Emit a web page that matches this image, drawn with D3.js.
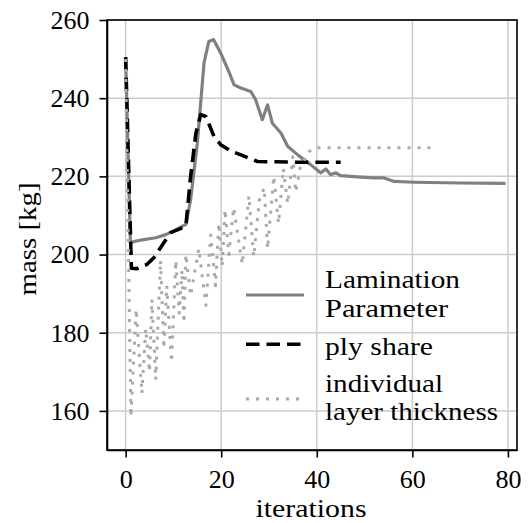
<!DOCTYPE html>
<meta charset="utf-8">
<script src="https://d3js.org/d3.v7.min.js"></script>
<style>
    body { margin: 0; background: #fff; }
</style>
<body>
<script>
    // lamination parameter run
    var lpIter = [0, 1, 2, 3.8, 6.3, 8.4, 10, 12.6, 13.6, 15, 16.4, 17.4, 18.4, 19.9, 21.6, 22.7, 24.1, 26.2, 27.2, 28.6, 29.7, 30.7, 32.5, 33.9, 36.2, 38.7, 40.8, 41.9, 42.9, 44, 45, 47.1, 49.2, 52, 54.1, 56.2, 60.4, 70, 79.5];
    var lpMass = [250.2, 203, 203.4, 203.8, 204.3, 205.1, 206, 207.7, 214, 228.5, 249, 254.5, 255, 251.5, 246.8, 243.4, 242.6, 241.7, 239.6, 234.5, 238.3, 233.6, 231.1, 227.7, 225.3, 223, 220.9, 221.9, 220.4, 220.9, 220.2, 220, 219.8, 219.6, 219.6, 218.7, 218.5, 218.3, 218.2];

    // ply share run
    var psIter = [0, 1.2, 2.4, 4.5, 5.9, 9.4, 12.6, 13.6, 14.7, 15.7, 16.8, 18.5, 19.9, 22, 24.1, 27.6, 36.6, 45];
    var psMass = [250.5, 196.5, 196.4, 197.5, 199.2, 205.6, 207.2, 220, 231, 235.8, 235.3, 230.2, 228.1, 226.5, 225.5, 223.8, 223.6, 223.6];

    // individual layer thickness run
    var ltIter = [0, 1.1, 2.2, 3.4, 4.2, 5, 5.5, 6.3, 7.3, 8, 8.6, 9.6, 10.5, 11.2, 11.8, 12.2, 12.6, 13.6, 15.3, 16.8, 17.8, 18.8, 19.5, 20.2, 20.8, 21.6, 22.6, 24.4, 25.8, 26.8, 28, 29, 29.7, 31, 32, 33, 33.9, 35, 35.6, 36.5, 37.5, 38.3, 39.8, 64.9];
    var ltMass = [250, 158.5, 186, 164.5, 181, 170, 188.5, 168, 198.5, 176, 192, 172.5, 198.5, 185, 196, 182.5, 200, 189.5, 201.5, 187, 205, 192, 208, 197, 211.5, 200, 212, 197.5, 215, 199.5, 214, 217, 201.5, 220, 208, 222, 213, 225, 216, 222, 224.5, 226.3, 227.3, 227.3];

    var xTicks = [0, 20, 40, 60, 80];
    var yTicks = [160, 180, 200, 220, 240, 260];

    var series = [
        {name: ["Lamination", "Parameter"], widths: [135, 123], x: lpIter, y: lpMass, color: "#808080", width: 3.2, dash: null},
        {name: ["ply share"], widths: [108], x: psIter, y: psMass, color: "#000000", width: 3.6, dash: "13.5,7"},
        {name: ["individual", "layer thickness"], widths: [118, 173], x: ltIter, y: ltMass, color: "#a9a9a9", width: 3, dash: "3,7"}
    ];

    var serif = "'Liberation Serif'";

    var margin = {top: 20, right: 13, bottom: 73, left: 107},
        width = 530 - margin.left - margin.right,
        height = 523 - margin.top - margin.bottom;

    var svg = d3.select("body").append("svg")
        .attr("width", 530)
        .attr("height", 523);

    var g = svg.append("g")
        .attr("transform", "translate(" + margin.left + "," + margin.top + ")");

    var x = d3.scaleLinear().domain([-3.9, 81.9]).range([0, width]);
    var y = d3.scaleLinear().domain([150, 260]).range([height, 0]);

    // grid
    g.append("g").selectAll("line")
        .data(xTicks)
        .enter().append("line")
        .attr("x1", d => x(d)).attr("x2", d => x(d))
        .attr("y1", 0).attr("y2", height)
        .attr("stroke", "#cccccc")
        .attr("stroke-width", 1.5);
    g.append("g").selectAll("line")
        .data(yTicks)
        .enter().append("line")
        .attr("x1", 0).attr("x2", width)
        .attr("y1", d => y(d)).attr("y2", d => y(d))
        .attr("stroke", "#cccccc")
        .attr("stroke-width", 1.5);

    // lines
    var line = d3.line()
        .x(d => x(d[0]))
        .y(d => y(d[1]));

    g.append("g").selectAll("path")
        .data(series)
        .enter().append("path")
        .attr("d", s => line(s.x.map((v, i) => [v, s.y[i]])))
        .attr("fill", "none")
        .attr("stroke", s => s.color)
        .attr("stroke-width", s => s.width)
        .attr("stroke-dasharray", s => s.dash)
        .attr("stroke-linejoin", "round");

    // axes
    var xAxis = g.append("g")
        .attr("transform", "translate(0," + height + ")")
        .call(d3.axisBottom(x).tickValues(xTicks).tickSize(7.5).tickSizeOuter(0).tickPadding(12));
    var yAxis = g.append("g")
        .call(d3.axisLeft(y).tickValues(yTicks).tickSize(7.5).tickSizeOuter(0).tickPadding(10));

    [xAxis, yAxis].forEach(function (a) {
        a.attr("font-family", null).attr("font-size", null);
        a.selectAll("text").style("font-family", serif).style("font-size", "26px").attr("fill", "#000");
        a.selectAll("line").attr("stroke-width", 1.6);
        a.select(".domain").attr("stroke-width", 1.6);
    });

    // box
    g.append("rect")
        .attr("width", width)
        .attr("height", height)
        .attr("fill", "none")
        .attr("stroke", "#000")
        .attr("stroke-width", 1.6);

    // axis labels
    svg.append("text")
        .attr("x", 311)
        .attr("y", 517)
        .attr("text-anchor", "middle")
        .style("font-family", serif)
        .style("font-size", "26px")
        .attr("textLength", 111)
        .attr("lengthAdjust", "spacingAndGlyphs")
        .text("iterations");

    svg.append("text")
        .attr("transform", "translate(36,239) rotate(-90)")
        .attr("text-anchor", "middle")
        .style("font-family", serif)
        .style("font-size", "26px")
        .attr("textLength", 113)
        .attr("lengthAdjust", "spacingAndGlyphs")
        .text("mass [kg]");

    // legend
    var legY = [295, 344.3, 399];
    var legText = [[288.3, 316.7], [355], [391.7, 420]];
    var legend = svg.append("g");
    series.forEach(function (s, i) {
        legend.append("line")
            .attr("x1", 246).attr("x2", 304)
            .attr("y1", legY[i]).attr("y2", legY[i])
            .attr("stroke", s.color)
            .attr("stroke-width", s.width)
            .attr("stroke-dasharray", s.dash);
        s.name.forEach(function (t, j) {
            legend.append("text")
                .attr("x", 325)
                .attr("y", legText[i][j])
                .style("font-family", serif)
                .style("font-size", "26px")
                .attr("textLength", s.widths[j])
                .attr("lengthAdjust", "spacingAndGlyphs")
                .text(t);
        });
    });
</script>
</body>
